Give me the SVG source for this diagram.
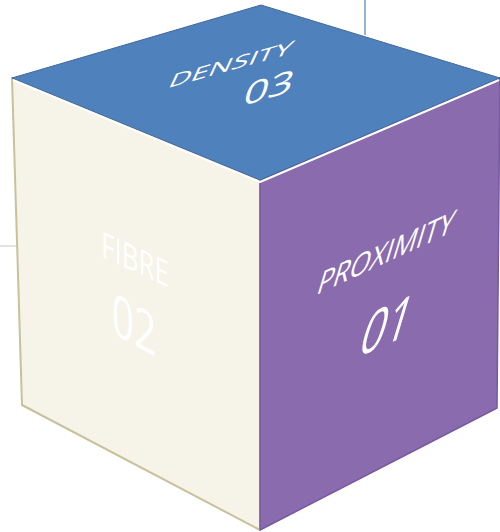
<svg xmlns="http://www.w3.org/2000/svg" width="500" height="532" viewBox="0 0 500 532">
  <style>
    .lbl { font-family: "Open Sans", "Noto Sans", "DejaVu Sans", sans-serif; fill: #ffffff; text-anchor: middle; }
    .conn { fill: none; stroke-width: 1.2; }
  </style>
  <rect x="0" y="0" width="500" height="532" fill="#ffffff"/>
  <g id="connectors">
    <line class="conn" x1="365" y1="0" x2="365" y2="35" stroke="#4F81BD"/>
    <line class="conn" x1="0" y1="246" x2="16" y2="246" stroke="#cfcfcf"/>
  </g>
  <g id="face-fibre">
    <polygon points="12,78 260,180 260,530 22,405" fill="#F6F3E8" stroke="#C8C19C" stroke-width="2" stroke-linejoin="round"/>
    <text class="lbl" font-size="36" transform="matrix(0.72 0.33 0 1 135 272)">FIBRE</text>
    <text class="lbl" font-size="58" transform="matrix(0.67 0.37 0 1 134 345)">02</text>
  </g>
  <g id="face-proximity">
    <polygon points="260,180 500,78 497,408 260,530" fill="#8A6BAE" stroke="#7559A1" stroke-width="1.5" stroke-linejoin="round"/>
    <text class="lbl" font-size="33" transform="matrix(0.8 -0.37 -0.3 1 383 264)">PROXIMITY</text>
    <text class="lbl" font-size="62" transform="matrix(0.7 -0.305 -0.3 1 381 347)">01</text>
  </g>
  <g id="face-density">
    <polygon points="12,78 261,5 500,78 260,180" fill="#4F81BD" stroke="#41689A" stroke-width="1" stroke-linejoin="round"/>
    <polyline points="13,80 260,182 499,80" fill="none" stroke="#ffffff" stroke-width="2" stroke-linejoin="round"/>
    <text class="lbl" font-size="32" transform="matrix(0.965 -0.27 -0.28 0.6 228 71)">DENSITY</text>
    <text class="lbl" font-size="46" transform="matrix(0.94 -0.29 -0.2 0.7 266 99)">03</text>
  </g>
</svg>
